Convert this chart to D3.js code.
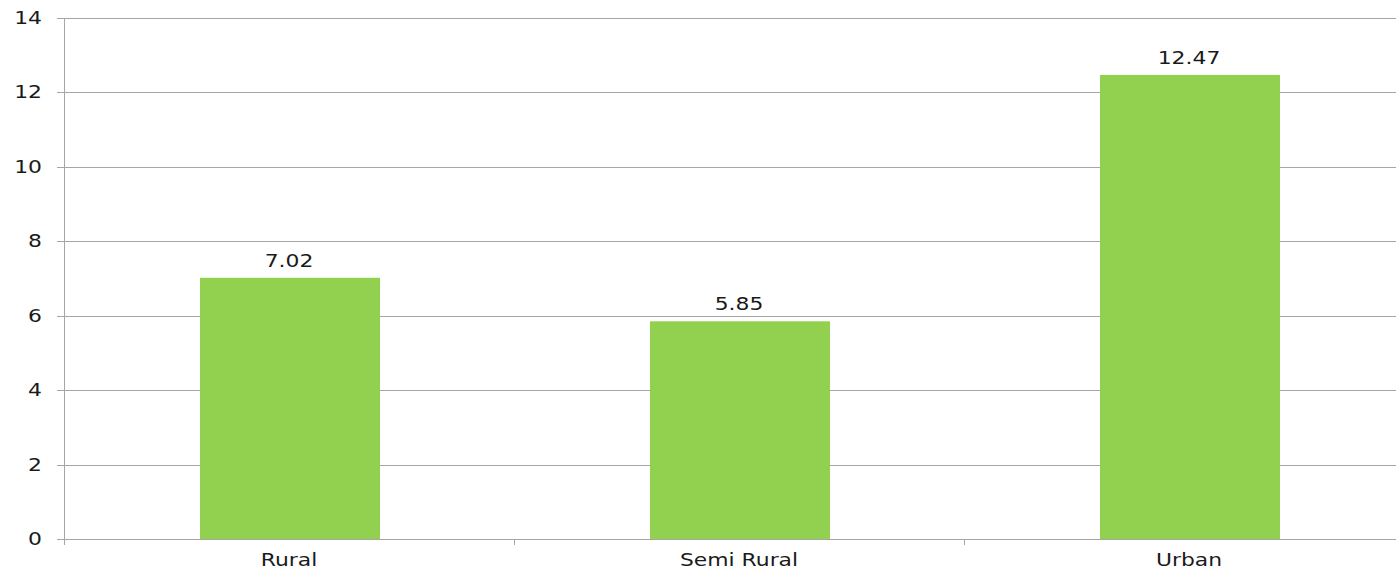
<!DOCTYPE html>
<html>
<head>
<meta charset="utf-8">
<script src="https://d3js.org/d3.v7.min.js"></script>
<style>
  html, body { margin: 0; padding: 0; background: #fff; }
  svg { display: block; }
  text { font-family: "DejaVu Sans", Verdana, sans-serif; fill: #1a1a1a; }
</style>
</head>
<body>
<svg id="chart" width="1396" height="569"></svg>
<script>
// Data
const categories = ["Rural", "Semi Rural", "Urban"];
const values = [7.02, 5.85, 12.47];
const yTicks = [0, 2, 4, 6, 8, 10, 12, 14];

const width = 1396, height = 569;
const margin = { left: 64, top: 18, bottom: 30 };
const plotRight = 1414;            // plot area runs past the right edge
const fontSize = 17.5;
const stretch = 1.25;              // wide text look

const svg = d3.select("#chart");

const x = d3.scaleBand()
  .domain(categories)
  .range([margin.left + 1, plotRight + 1])
  .paddingInner(0.6)
  .paddingOuter(0.3);

const band = d3.scaleBand()
  .domain(categories)
  .range([margin.left, plotRight]);

const y = d3.scaleLinear()
  .domain([0, 14])
  .range([height - margin.bottom, margin.top]);

const grid = "#a6a6a6";

// Horizontal gridlines
svg.append("g")
  .selectAll("line")
  .data(yTicks)
  .join("line")
  .attr("x1", margin.left - 7)
  .attr("x2", width)
  .attr("y1", d => Math.round(y(d)) + 0.5)
  .attr("y2", d => Math.round(y(d)) + 0.5)
  .attr("stroke", grid)
  .attr("stroke-width", 1);

// Vertical axis line
svg.append("line")
  .attr("x1", margin.left + 0.5).attr("x2", margin.left + 0.5)
  .attr("y1", Math.round(y(14))).attr("y2", Math.round(y(0)) + 6)
  .attr("stroke", grid);

// Category tick marks at band boundaries
svg.append("g")
  .selectAll("line")
  .data(categories.slice(1))
  .join("line")
  .attr("x1", d => Math.round(band(d)) + 0.5)
  .attr("x2", d => Math.round(band(d)) + 0.5)
  .attr("y1", Math.round(y(0)))
  .attr("y2", Math.round(y(0)) + 6)
  .attr("stroke", grid);

// Helper: horizontally widened text anchored at (px, py)
function wideText(sel, px, py, str, anchor) {
  sel.append("g")
    .attr("transform", `translate(${px},${py}) scale(${stretch},1)`)
    .append("text")
    .attr("text-anchor", anchor)
    .style("font-size", fontSize + "px")
    .text(str);
}

// Y tick labels
const yLab = svg.append("g");
yTicks.forEach(t => wideText(yLab, 42, y(t) + 6, String(t), "end"));

// Bars
svg.append("g")
  .selectAll("rect")
  .data(values)
  .join("rect")
  .attr("x", (d, i) => x(categories[i]))
  .attr("width", x.bandwidth())
  .attr("y", d => y(d))
  .attr("height", d => y(0) - y(d))
  .attr("fill", "#92d050");

// Value labels
const vLab = svg.append("g");
values.forEach((v, i) =>
  wideText(vLab, band(categories[i]) + band.bandwidth() / 2, y(v) - 11, v.toFixed(2), "middle"));

// Category labels
const cLab = svg.append("g");
categories.forEach(c =>
  wideText(cLab, band(c) + band.bandwidth() / 2, 566, c, "middle"));
</script>
</body>
</html>
